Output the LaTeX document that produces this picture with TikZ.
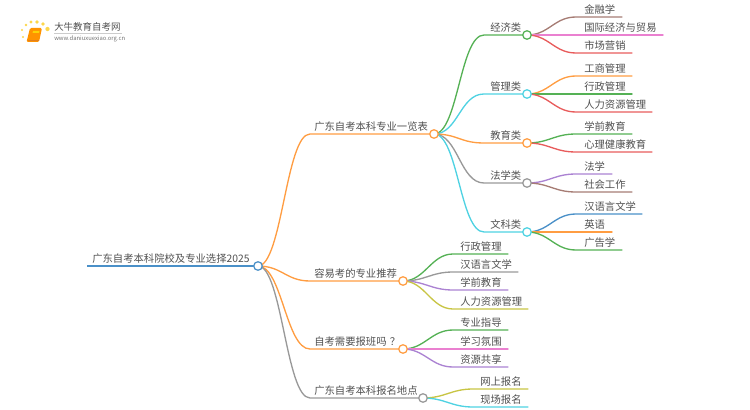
\documentclass[tikz,border=0pt]{standalone}
\usepackage{fontspec}
\setmainfont{Noto Sans CJK SC}
\usetikzlibrary{calc}
\definecolor{cgreen}{HTML}{55B155}
\definecolor{ccyan}{HTML}{4FD2E2}
\definecolor{corange}{HTML}{FF9D42}
\definecolor{cgray}{HTML}{999999}
\definecolor{cblue}{HTML}{4A90C8}
\definecolor{cpurple}{HTML}{AB82D2}
\definecolor{cbrown}{HTML}{A67C74}
\definecolor{cpink}{HTML}{EA80D0}
\definecolor{cred}{HTML}{E85C5C}
\definecolor{colive}{HTML}{C8C544}
\definecolor{ctext}{HTML}{505050}
\tikzset{
  x=0.75pt,y=-0.75pt,
  lbl/.style={anchor=base west,inner sep=0pt,text=ctext,font=\fontsize{7.75pt}{9pt}\selectfont},
  hub/.style={circle,draw=#1,fill=white,line width=0.95pt,minimum size=6.4pt,inner sep=0pt},
  conn/.style={line width=1pt,line cap=round},
  dot/.style={circle,fill=#1,inner sep=0pt},
}
% name, parent, dx, text x, curve end x, line end x, y, colour, text
\newcommand{\branch}[9]{%
  \coordinate (#1a) at (#5,#7);
  \coordinate (#1b) at (#6,#7);
  \draw[conn,#8] (#2) .. controls +(#3,0) and ($(#1a)+(-#3,0)$) .. (#1a) -- (#1b);
  \node[lbl] (#1t) at (#4,#7-3.1) {#9};
}
\begin{document}
\begin{tikzpicture}
\useasboundingbox (0,0) rectangle (750,410);
% hub positions
\coordinate (rc) at (258,266);
\coordinate (ac) at (434,134);
\coordinate (bc) at (403,281);
\coordinate (cc) at (403,349);
\coordinate (dc) at (423,398);
\coordinate (a1c) at (527,35);
\coordinate (a2c) at (527,94);
\coordinate (a3c) at (527,143);
\coordinate (a4c) at (527,183);
\coordinate (a5c) at (527,232);
% root
\coordinate (r0) at (87,266);
\draw[cblue,line width=1.9pt] (r0) -- (rc);
\node[lbl] (rt) at (92,262.9) {广东自考本科院校及专业选择2025};
% level 1
\branch{a}{rc}{24}{314}{310}{434}{134}{corange}{广东自考本科专业一览表}
\branch{b}{rc}{24}{314}{310}{403}{281}{corange}{容易考的专业推荐}
\branch{c}{rc}{24}{314}{310}{403}{349}{corange}{自考需要报班吗\hspace{2.4pt}？}
\branch{d}{rc}{24}{314}{310}{423}{398}{cgray}{广东自考本科报名地点}
% level 2
\branch{ae}{ac}{24}{490}{484}{527}{35}{cgreen}{经济类}
\branch{af}{ac}{24}{490}{484}{527}{94}{ccyan}{管理类}
\branch{ag}{ac}{24}{490}{484}{527}{143}{corange}{教育类}
\branch{ah}{ac}{24}{490}{484}{527}{183}{cgray}{法学类}
\branch{ai}{ac}{24}{490}{484}{527}{232}{ccyan}{文科类}
% leaves
\branch{l1}{a1c}{22}{584}{576}{622}{17}{cbrown}{金融学}
\branch{l2}{a1c}{22}{584}{576}{663}{35}{cpink}{国际经济与贸易}
\branch{l3}{a1c}{22}{584}{576}{632}{53}{cred}{市场营销}
\branch{l4}{a2c}{22}{584}{576}{632}{76}{corange}{工商管理}
\branch{l5}{a2c}{22}{584}{576}{632}{94}{cgreen}{行政管理}
\branch{l6}{a2c}{22}{584}{576}{652}{112}{cred}{人力资源管理}
\branch{l7}{a3c}{22}{584}{576}{632}{134}{cgreen}{学前教育}
\branch{l8}{a3c}{22}{584}{576}{652}{152}{cred}{心理健康教育}
\branch{l9}{a4c}{22}{584}{576}{612}{174}{cpurple}{法学}
\branch{l10}{a4c}{22}{584}{576}{632}{192}{cbrown}{社会工作}
\branch{l11}{a5c}{22}{584}{576}{642}{214}{cblue}{汉语言文学}
\branch{l12}{a5c}{22}{584}{576}{612}{232}{corange}{英语}
\branch{l13}{a5c}{22}{584}{576}{622}{250}{cgreen}{广告学}
\branch{m1}{bc}{22}{460}{453}{508}{254}{cgreen}{行政管理}
\branch{m2}{bc}{22}{460}{453}{518}{272}{cgray}{汉语言文学}
\branch{m3}{bc}{22}{460}{453}{508}{290}{cpurple}{学前教育}
\branch{m4}{bc}{22}{460}{453}{528}{309}{colive}{人力资源管理}
\branch{m5}{cc}{22}{460}{453}{508}{330}{cgreen}{专业指导}
\branch{m6}{cc}{22}{460}{453}{508}{349}{cpink}{学习氛围}
\branch{m7}{cc}{22}{460}{453}{508}{367}{cpurple}{资源共享}
\branch{m8}{dc}{22}{480}{473}{528}{389}{colive}{网上报名}
\branch{m9}{dc}{22}{480}{473}{528}{407}{ccyan}{现场报名}
% hubs
\node[hub=cblue] (rh) at (rc) {};
\node[hub=corange] (ah) at (ac) {};
\node[hub=corange] (bh) at (bc) {};
\node[hub=corange] (ch) at (cc) {};
\node[hub=cgray] (dh) at (dc) {};
\node[hub=cgreen] (a1h) at (a1c) {};
\node[hub=ccyan] (a2h) at (a2c) {};
\node[hub=corange] (a3h) at (a3c) {};
\node[hub=cgray] (a4h) at (a4c) {};
\node[hub=ccyan] (a5h) at (a5c) {};
% logo
\foreach \px/\py/\ps in {23/37/1.6,22/30/1.8,26/25/2.2,31/22/2.6,37/22/2.8,43/24/2.8,47.5/29/3.2}
  \node[dot={yellow!60!orange!70!white},minimum size=\ps pt] at (\px,\py) {};
\fill[orange!85!yellow,rounded corners=1pt] (30,28) -- (42,28) -- (39,42) -- (26.5,42) -- cycle;
\fill[yellow!70!orange] (33,31) -- (39.5,31) -- (39,33) -- (32.5,33) -- cycle;
\draw[orange!50!brown,line width=0.5pt] (27.5,40) -- (39,40);
\node[inner sep=0pt,anchor=base west,text=ctext,font=\fontsize{7.1pt}{9pt}\selectfont] (logot) at (54,30.5) {大牛教育自考网};
\draw[black!20,line width=0.4pt] (54,33.5) -- (122,33.5);
\node[inner sep=0pt,anchor=base west,text=black!55,font=\fontsize{4.4pt}{5pt}\selectfont] (logou) at (54,40.5) {www.daniuxuexiao.org.cn};
\end{tikzpicture}
\end{document}
